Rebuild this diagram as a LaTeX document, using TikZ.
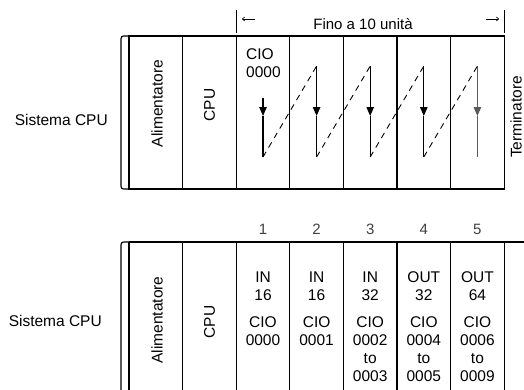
\documentclass[tikz,border=0pt]{standalone}
\usepackage{fontspec}
\setmainfont{Liberation Sans}
\usetikzlibrary{arrows.meta}
\tikzset{
  frame/.style={line width=1.1pt, black},
  txt/.style={font=\fontsize{15.5}{18}\selectfont, inner sep=0pt},
  side/.style={font=\fontsize{15.5}{18}\selectfont, inner sep=0pt, anchor=base east},
  rot/.style={font=\fontsize{15.5}{18}\selectfont, inner sep=0pt, rotate=90},
  numlbl/.style={font=\fontsize{15}{17}\selectfont, inner sep=0pt, text=black!75, anchor=base},
  flow/.style={line width=1.1pt},
  flowhead/.style={line width=1.1pt, -{Triangle[length=9pt,width=7.5pt]}},
  jump/.style={line width=0.9pt, dash pattern=on 6pt off 5pt},
  hdr/.style={line width=0.6pt, -{To[length=3pt,width=4.5pt]}}
}
\begin{document}
\begin{tikzpicture}[x=1pt,y=-1pt]
\useasboundingbox (0,0) rectangle (524,389);
% ---------- top rack ----------
\draw[frame, rounded corners=2.5pt] (129,36) -- (121,36) -- (121,189) -- (129,189);
\draw[frame] (129,36) rectangle (504.2,189);
\foreach \k in {1,...,6} {
  \draw[frame] ({129+53.6*\k},36) -- ({129+53.6*\k},189);
}
% header
\draw[line width=1pt] (236.2,10) -- (236.2,33);
\draw[line width=1pt] (504.2,10) -- (504.2,33);
\coordinate (hl1) at (255,19); \coordinate (hl2) at (242,19);
\coordinate (hr1) at (486,19); \coordinate (hr2) at (499,19);
\draw[hdr] (hl1) -- (hl2);
\draw[hdr] (hr1) -- (hr2);
\node[font=\fontsize{15}{18}\selectfont, inner sep=0pt, anchor=base] (fino) at (363,29) {Fino a 10 unità};
% labels
\node[side] (sys1) at (108,125) {Sistema CPU};
\node[rot] (ali1) at (157,103.5) {Alimentatore};
\node[rot] (cpu1) at (209.5,105) {CPU};
\node[rot] (term) at (516,117) {Terminatore};
\node[txt, anchor=north west, align=left] (cio1) at (246,48) {CIO\\0000};
% flow arrows
\coordinate (a3t) at (263,98);
\foreach \n/\x in {3/263,4/316.6,5/370.2,6/423.8,7/477.4} {
  \coordinate (a\n m) at (\x,116);
  \coordinate (a\n b) at (\x,157);
}
\foreach \n/\x in {4/316.6,5/370.2,6/423.8,7/477.4} {
  \coordinate (a\n t) at (\x,66);
}
\foreach \n in {3,4,5,6} {
  \draw[flowhead] (a\n t) -- (a\n m);
  \draw[flow] (a\n m) -- (a\n b);
}
\draw[flowhead, black!65] (a7t) -- (a7m);
\draw[flow, black!65] (a7m) -- (a7b);
\draw[jump] (a3b) -- (a4t);
\draw[jump] (a4b) -- (a5t);
\draw[jump] (a5b) -- (a6t);
\draw[jump] (a6b) -- (a7t);
% ---------- bottom rack ----------
\draw[frame, rounded corners=2.5pt] (129,242) -- (121,242) -- (121,390);
\draw[frame] (129,242) -- (524,242);
\foreach \k in {0,...,7} {
  \draw[frame] ({129+53.6*\k},242) -- ({129+53.6*\k},390);
}
\node[side] (sys2) at (102,326) {Sistema CPU};
\node[rot] (ali2) at (157,320) {Alimentatore};
\node[rot] (cpu2) at (209.5,322) {CPU};
\foreach \n/\x in {1/263,2/316.6,3/370.2,4/423.8,5/477.4} {
  \node[numlbl] (num\n) at (\x,234) {\n};
}
\node[txt, anchor=north, align=center] (m1a) at (263,271.5) {IN\\16};
\node[txt, anchor=north, align=center] (m1b) at (263,316.5) {CIO\\0000};
\node[txt, anchor=north, align=center] (m2a) at (316.6,271.5) {IN\\16};
\node[txt, anchor=north, align=center] (m2b) at (316.6,316.5) {CIO\\0001};
\node[txt, anchor=north, align=center] (m3a) at (370.2,271.5) {IN\\32};
\node[txt, anchor=north, align=center] (m3b) at (370.2,316.5) {CIO\\0002\\to\\0003};
\node[txt, anchor=north, align=center] (m4a) at (423.8,271.5) {OUT\\32};
\node[txt, anchor=north, align=center] (m4b) at (423.8,316.5) {CIO\\0004\\to\\0005};
\node[txt, anchor=north, align=center] (m5a) at (477.4,271.5) {OUT\\64};
\node[txt, anchor=north, align=center] (m5b) at (477.4,316.5) {CIO\\0006\\to\\0009};
\end{tikzpicture}
\end{document}
